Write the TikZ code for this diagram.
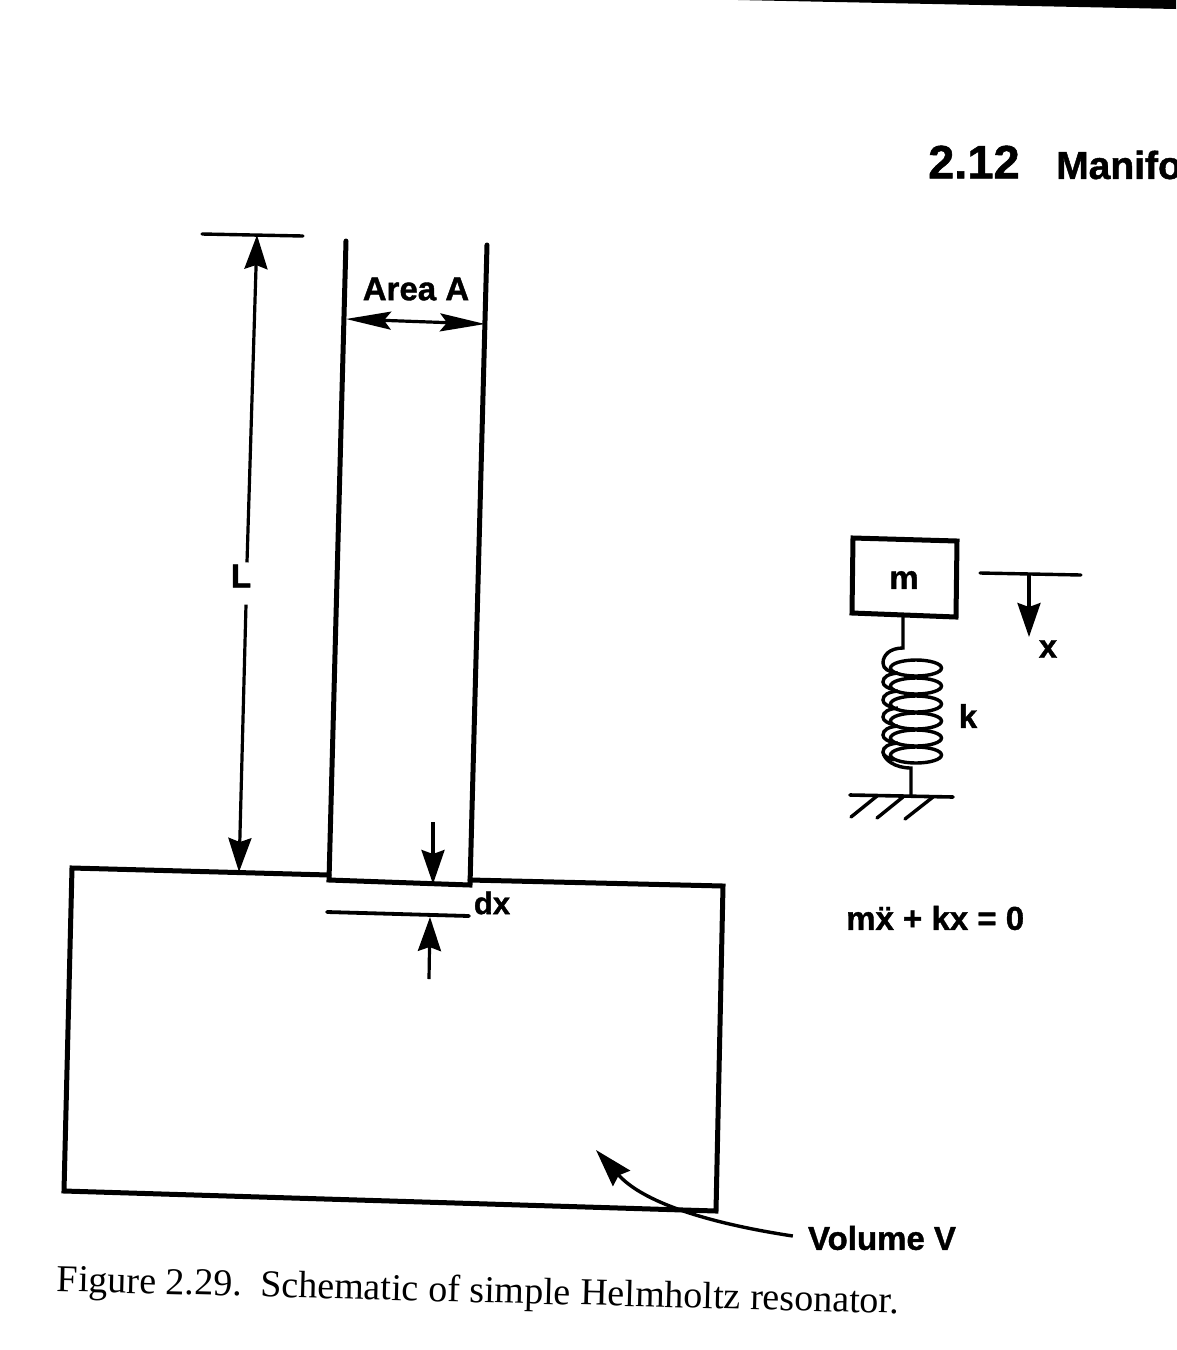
\documentclass[tikz,border=0pt]{standalone}
\usepackage{fontspec}
\setmainfont{Liberation Serif}
\newfontfamily\labelfont[BoldFont={Liberation Sans Bold},BoldFeatures={FakeBold=1.2}]{Liberation Sans}
\usetikzlibrary{arrows.meta}
\tikzset{
  wall/.style={line width=5pt,line join=miter,line cap=round},
  thinline/.style={line width=3.4pt,line cap=round},
  coil/.style={line width=3.4pt},
  dimarrow/.style={line width=3.2pt,-{Stealth[length=34pt,width=23pt,inset=4pt]}},
  twoarrow/.style={line width=3.2pt,{Stealth[length=45pt,width=18pt,inset=7pt]}-{Stealth[length=45pt,width=18pt,inset=7pt]}},
  lab/.style={font=\labelfont\bfseries\fontsize{33}{34}\selectfont,inner sep=0pt,text=black},
  caption/.style={font=\fontsize{38}{40}\selectfont,inner sep=0pt,text=black,rotate=-1.5,anchor=west},
}
\begin{document}
\begin{tikzpicture}[x=1pt,y=-1pt]
\useasboundingbox (0,0) rectangle (1176,1350);
\fill[white] (0,0) rectangle (1176,1350);
% scan edge at the top right
\fill[black] (738,0) -- (1176,0) -- (1176,9) -- cycle;
% running head
\node[lab,anchor=west,font=\labelfont\bfseries\fontsize{47}{48}\selectfont] (sec) at (928,162) {2.12};
\node[lab,anchor=west,font=\labelfont\bfseries\fontsize{39}{40}\selectfont] (head) at (1056,165) {Manifo};
% resonator
\coordinate (nlt) at (346,241);
\coordinate (nlb) at (329,880);
\coordinate (nrt) at (487,245);
\coordinate (nrb) at (470,885);
\coordinate (tl) at (72,868);
\coordinate (tr) at (723,886);
\coordinate (br) at (716,1211);
\coordinate (bl) at (64,1191);
\draw[wall] (nlt) -- (nlb) -- (nrb) -- (nrt);
\draw[wall] (329,875) -- (tl) -- (bl) -- (br) -- (tr) -- (470,880);
% L dimension
\coordinate (ltopa) at (202,234);
\coordinate (ltopb) at (303,236);
\coordinate (ltip) at (257,235);
\coordinate (lfoot) at (239,872);
\node[lab] (L) at (241,576) {L};
\draw[thinline] (ltopa) -- (ltopb);
\draw[dimarrow] (L.north) ++(6,-2) coordinate (lu) (lu) -- (ltip);
\draw[dimarrow] (L.south) ++(5,17) coordinate (ld) (ld) -- (lfoot);
% Area A
\node[lab] (area) at (416,289) {Area A};
\coordinate (aw) at (346,319);
\coordinate (ae) at (485,324);
\draw[twoarrow] (aw) -- (ae);
% dx
\coordinate (dxa) at (327,912);
\coordinate (dxb) at (469,916);
\draw[thinline,line width=3.8pt] (dxa) -- (dxb);
\coordinate (dxd0) at (433,822);
\coordinate (dxd1) at (433,884);
\coordinate (dxu0) at (429,979);
\coordinate (dxu1) at (430,917);
\draw[dimarrow] (dxd0) -- (dxd1);
\draw[dimarrow] (dxu0) -- (dxu1);
\node[lab,font=\labelfont\bfseries\fontsize{31}{32}\selectfont] (dx) at (492,903) {dx};
% volume label
\node[lab] (vol) at (882,1238) {Volume V};
\coordinate (voltip) at (596,1150);
\draw[line width=3.4pt,-{Stealth[length=38pt,width=23pt,inset=4pt]}] (vol.west) ++(-15,-2) coordinate (vs)
  (vs) .. controls (740,1228) and (650,1210) .. (voltip);
% mass
\coordinate (ma) at (853,538);
\coordinate (mb) at (957,541);
\coordinate (mc) at (956,617);
\coordinate (md) at (852,613);
\draw[wall] (ma) -- (mb) -- (mc) -- (md) -- cycle;
\node[lab] (m) at (904,580) {m};
% x marker
\coordinate (xa) at (980,573);
\coordinate (xb) at (1081,575);
\coordinate (xs) at (1029,574);
\coordinate (xe) at (1029,637);
\draw[thinline] (xa) -- (xb);
\draw[dimarrow] (xs) -- (xe);
\node[lab] (x) at (1048,649) {x};
% spring
\coordinate (mbot) at (903,615);
\coordinate (stop) at (903,648);
\draw[coil] (mbot) -- (stop) .. controls (890,648) and (883,655) .. (883,663) .. controls (883,669) and (889,672) .. (897,673);
\foreach \yy in {668,686,704,721,738,755}{
  \draw[coil] (916,\yy) ellipse [x radius=25.5,y radius=8];
}
\foreach \yy in {673,691,708,726,743}{
  \draw[coil] (898,\yy) .. controls (888,\yy+1) and (883,\yy+4) .. (883,\yy+9) .. controls (883,\yy+13) and (888,\yy+15) .. (894,\yy+17);
}
\coordinate (sbot) at (911,768);
\coordinate (gnd) at (911,796);
\draw[coil] (883,752) .. controls (884,760) and (895,768) .. (sbot) -- (gnd);
% ground
\coordinate (ga) at (850,795);
\coordinate (gb) at (953,797);
\draw[thinline,line width=3.6pt] (ga) -- (gb);
\draw[thinline] (877,796) -- (851,817);
\draw[thinline] (903,797) -- (877,818);
\draw[thinline] (933,797) -- (905,819);
\node[lab] (k) at (968,716) {k};
\node[lab,anchor=west] (eq) at (846,918) {m\"x + kx = 0};
% caption
\node[caption] (cap) at (57,1282) {Figure 2.29.\enspace Schematic of simple Helmholtz resonator.};
\end{tikzpicture}
\end{document}
